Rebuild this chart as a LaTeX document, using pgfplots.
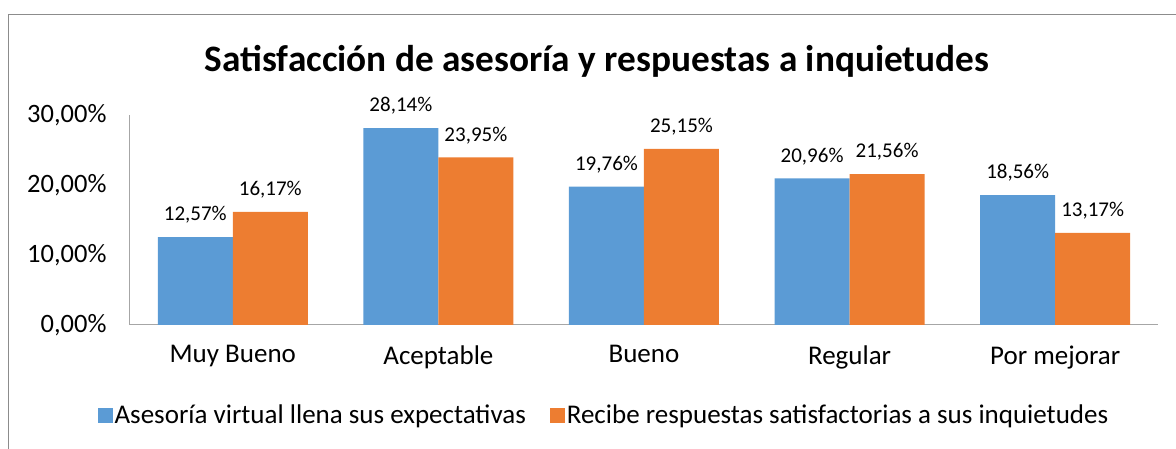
\documentclass[border=0pt]{standalone}
\usepackage{fontspec}
\setmainfont{Carlito}
\usepackage{pgfplots}
\pgfplotsset{compat=1.18}
\definecolor{cblue}{HTML}{5B9BD5}
\definecolor{corange}{HTML}{ED7D31}
\definecolor{axgray}{HTML}{A6A6A6}
\definecolor{framegray}{HTML}{8C8C8C}
\begin{document}
\begin{tikzpicture}[x=1pt,y=1pt]
\useasboundingbox (0,0) rectangle (1176,449);
\draw[framegray,line width=1pt] (8,-5) -- (8,434) -- (1180,434);
\node[font=\fontsize{37.3}{41}\selectfont\bfseries] at (597,388) {Satisfacción de asesoría y respuestas a inquietudes};
\begin{axis}[
  at={(130pt,124pt)}, anchor=south west,
  scale only axis, width=1028pt, height=210pt,
  xmin=-0.5, xmax=4.5, ymin=0, ymax=30,
  ybar, bar width=75pt,
  axis lines*=left,
  axis line style={axgray,line width=1pt},
  tick style={draw=none},
  major tick length=0pt,
  ytick={0,10,20,30},
  yticklabel={\pgfmathprintnumber[fixed,fixed zerofill,precision=2,use comma]{\tick}\%},
  yticklabel style={font=\fontsize{26.5}{30}\selectfont, xshift=-20pt},
  xtick={0,1,2,3,4},
  xticklabels={Muy Bueno,Aceptable,Bueno,Regular,Por mejorar},
  xticklabel style={font=\fontsize{27}{30}\selectfont, yshift=-17pt},
  /pgf/number format/assume math mode=true,
  nodes near coords={\pgfmathprintnumber[fixed,fixed zerofill,precision=2,use comma]{\pgfplotspointmeta}\%},
  every node near coord/.append style={font=\fontsize{21}{25}\selectfont, yshift=10pt},
  legend style={at={(0.461,-0.4286)}, anchor=center, draw=none, legend columns=2,
    font=\fontsize{27}{30}\selectfont, /tikz/every even column/.append style={column sep=22pt}},
  legend image code/.code={\fill[#1] (0pt,-7.5pt) rectangle (15pt,7.5pt);},
  enlarge x limits=false,
]
\addplot[fill=cblue, draw=none, bar shift=-37.5pt] coordinates {(0,12.57) (1,28.14) (2,19.76) (3,20.96) (4,18.56)};
\addplot[fill=corange, draw=none, bar shift=37.5pt] coordinates {(0,16.17) (1,23.95) (2,25.15) (3,21.56) (4,13.17)};
\legend{Asesoría virtual llena sus expectativas, Recibe respuestas satisfactorias a sus inquietudes}
\end{axis}
\end{tikzpicture}
\end{document}
